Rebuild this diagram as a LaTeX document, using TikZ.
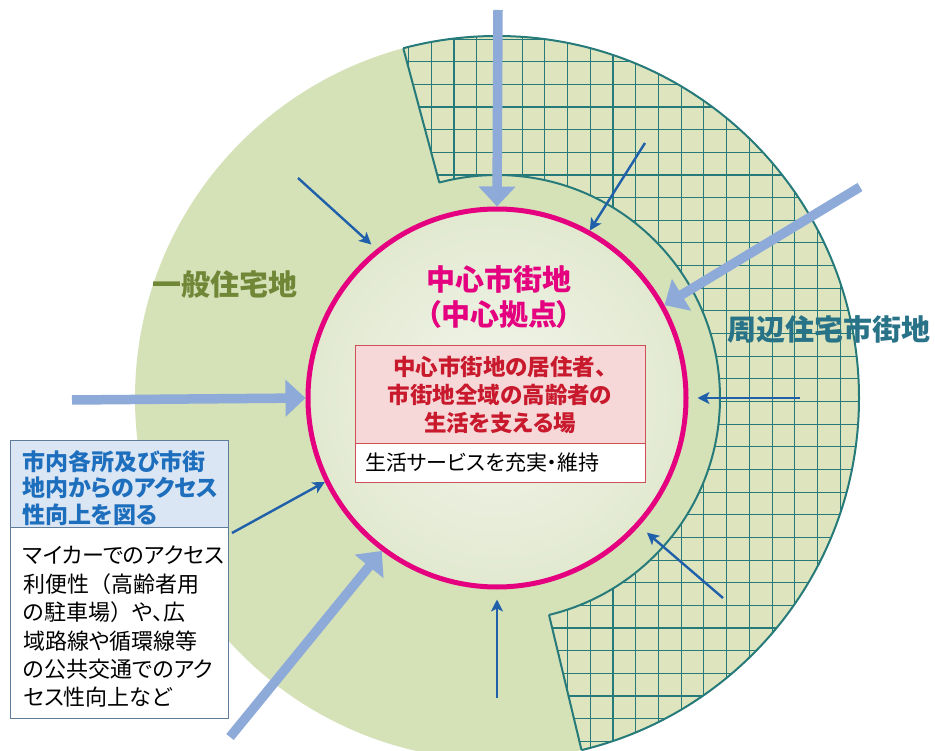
\documentclass[tikz,border=0pt]{standalone}
\usepackage{fontspec}
\newfontfamily\jp[RawFeature=+palt]{Noto Sans CJK JP}
\newfontfamily\jpw{Noto Sans CJK JP}
\usetikzlibrary{arrows.meta}
\definecolor{gbase}{RGB}{213,225,183}
\definecolor{ghatch}{RGB}{222,229,190}
\definecolor{teal1}{RGB}{38,122,122}
\definecolor{coreln}{RGB}{228,0,127}
\definecolor{coreinner}{RGB}{242,245,236}
\definecolor{coreouter}{RGB}{226,233,208}
\definecolor{thickbl}{RGB}{141,170,216}
\definecolor{thinbl}{RGB}{32,96,170}
\definecolor{olivetx}{RGB}{112,135,55}
\definecolor{tealtx}{RGB}{40,115,135}
\definecolor{redtx}{RGB}{200,25,45}
\definecolor{redln}{RGB}{205,80,85}
\definecolor{pinkfill}{RGB}{246,216,216}
\definecolor{bluetx}{RGB}{30,110,190}
\definecolor{bluefill}{RGB}{218,230,244}
\definecolor{boxln}{RGB}{95,125,155}
\tikzset{
  thickarrow/.style={draw=thickbl, line width=9.5pt, -{Triangle[width=36pt,length=20pt]}},
  thinarrow/.style={draw=thinbl, line width=2.4pt, -{Stealth[width=12pt,length=12pt,inset=3pt]}},
  gridln/.style={draw=teal1, line width=1.1pt},
  edgeln/.style={draw=teal1, line width=2pt},
  zonelabel/.style={font=\jp\bfseries\fontsize{29pt}{35pt}\selectfont, inner sep=0pt},
  redbox/.style={draw=redln, line width=1pt, minimum width=290pt, outer sep=0pt},
  bluebox/.style={draw=boxln, line width=1pt, minimum width=218pt, outer sep=0pt, inner sep=0pt},
}
\begin{document}
\begin{tikzpicture}[x=1pt,y=-1pt]
\useasboundingbox (0,0) rectangle (935,751);
\clip (0,0) rectangle (935,751);
\fill[white] (0,0) rectangle (935,751);
\coordinate (c) at (497,398);
% general residential area
\fill[gbase] (c) circle[radius=362pt];
% surrounding residential urban area (hatched sector)
\begin{scope}
  \clip (c) -- (238,-568) -- (997,-468) -- (1463,139) -- (1363,898) -- (730,1370) -- cycle;
  \begin{scope}[even odd rule]
    \clip (c) circle[radius=362pt] (c) circle[radius=223pt];
    \fill[ghatch] (0,0) rectangle (935,751);
    \foreach \i in {-8,...,22} \draw[gridln] ({476.7+22.72*\i},0) -- ({476.7+22.72*\i},751);
    \foreach \i in {-2,...,32} \draw[gridln] (380,{39.1+22.65*\i}) -- (935,{39.1+22.65*\i});
  \end{scope}
  \draw[edgeln] (c) circle[radius=362pt] (c) circle[radius=223pt];
\end{scope}
\coordinate (ha) at (439.3,182.6);
\coordinate (hb) at (403.3,48.3);
\coordinate (hc) at (549.0,614.8);
\coordinate (hd) at (581.5,750.0);
\draw[edgeln] (ha) -- (hb);
\draw[edgeln] (hc) -- (hd);
% central urban area
\node[circle, draw=coreln, line width=5pt, inner color=coreinner, outer color=coreouter,
      minimum size=378pt, inner sep=0pt] (core) at (c) {};
% thick arrows
\coordinate (t1) at (498,10);
\coordinate (t2) at (860,187);
\coordinate (t3) at (72,400);
\coordinate (t4) at (230,737);
\draw[thickarrow] (t1) -- (core.90);
\draw[thickarrow] (t2) -- (core.29.5);
\draw[thickarrow] (t3) -- (core.180);
\draw[thickarrow] (t4) -- (core.233);
% left box
\node[bluebox, fill=bluefill, minimum height=87pt, anchor=north west] (hdr) at (10,440) {};
\node[bluebox, fill=white, minimum height=191pt, anchor=north west] (body) at (hdr.south west) {};
\node[anchor=north west, inner sep=0pt, align=left, text=bluetx,
      font=\jp\bfseries\fontsize{23pt}{26.5pt}\selectfont] (hdrtxt) at (22,450)
  {市内各所及び市街\\地内からのアクセス\\性向上を図る};
\node[anchor=north west, inner sep=0pt, align=left, text=black,
      font=\jp\fontsize{22pt}{28.4pt}\selectfont] (bodytxt) at (23,546)
  {マイカーでのアクセス\\利便性{\jpw （}高齢者用\\の駐車場{\jpw ）}や、広\\域路線や循環線等\\の公共交通でのアク\\セス性向上など};
% thin arrows
\coordinate (n1) at (298,178);
\coordinate (n2) at (645,143);
\coordinate (n3) at (800,398);
\coordinate (n4) at (723,598);
\coordinate (n5) at (497,698);
\coordinate (n6) at (232,533);
\draw[thinarrow, shorten >=7pt] (n1) -- (core.129);
\draw[thinarrow] (n2) -- (core.61);
\draw[thinarrow, shorten >=9pt] (n3) -- (core.0);
\draw[thinarrow, shorten >=10pt] (n4) -- (core.-42);
\draw[thinarrow, shorten >=10pt] (n5) -- (core.-90);
\draw[thinarrow] (n6) -- (core.206);
% labels
\node[zonelabel, text=olivetx] (gen) at (225,284) {一般住宅地};
\node[zonelabel, text=tealtx, anchor=west] (peri) at (727,329) {周辺住宅市街地};
\node[zonelabel, text=coreln, align=center] (title) at (499,297) {中心市街地\\（中心拠点）};
% center box
\node[redbox, fill=pinkfill, minimum height=97pt, anchor=north, align=center, text=redtx,
      font=\jp\bfseries\fontsize{22.5pt}{28pt}\selectfont] (role) at (500,346)
  {中心市街地の居住者、\\市街地全域の高齢者の\\生活を支える場};
\node[redbox, fill=white, minimum height=39pt, anchor=north, text width=270pt, inner xsep=10pt,
      align=left, text=black, font=\jp\fontsize{21pt}{24pt}\selectfont] (svc) at (role.south)
  {生活サービスを充実・維持};
\end{tikzpicture}
\end{document}
